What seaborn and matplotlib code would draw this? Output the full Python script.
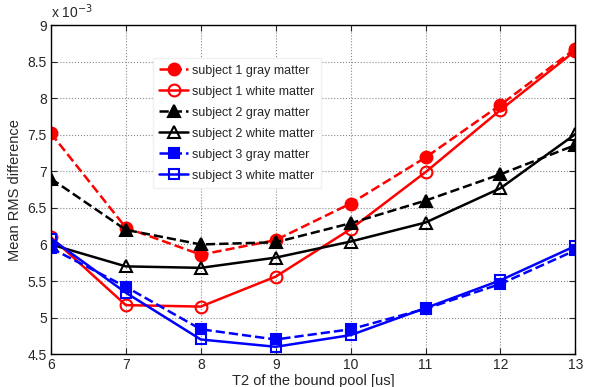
import numpy as np
import pandas as pd
import matplotlib
matplotlib.use("Agg")
import matplotlib.pyplot as plt
import seaborn as sns
from matplotlib.ticker import FuncFormatter

sns.set_style("ticks")
plt.rcParams['font.family'] = ['Liberation Sans', 'DejaVu Sans']

# T2 of the bound pool [us]
t2 = [6, 7, 8, 9, 10, 11, 12, 13]

# mean RMS difference, in units of 1e-3
s1_gray = [7.52, 6.23, 5.86, 6.06, 6.56, 7.19, 7.91, 8.68]
s1_white = [6.10, 5.17, 5.15, 5.56, 6.21, 6.99, 7.84, 8.65]
s2_gray = [6.90, 6.20, 6.00, 6.03, 6.29, 6.60, 6.96, 7.36]
s2_white = [6.00, 5.70, 5.68, 5.82, 6.04, 6.30, 6.77, 7.51]
s3_gray = [5.95, 5.42, 4.84, 4.70, 4.84, 5.12, 5.46, 5.92]
s3_white = [6.08, 5.34, 4.70, 4.60, 4.76, 5.13, 5.51, 5.98]

series = [
    ("subject 1 gray matter", s1_gray, "red", "o", "--", True),
    ("subject 1 white matter", s1_white, "red", "o", "-", False),
    ("subject 2 gray matter", s2_gray, "black", "^", "--", True),
    ("subject 2 white matter", s2_white, "black", "^", "-", False),
    ("subject 3 gray matter", s3_gray, "blue", "s", "--", True),
    ("subject 3 white matter", s3_white, "blue", "s", "-", False),
]

fig, ax = plt.subplots(figsize=(5.92, 3.87), dpi=100)

for name, vals, col, mk, ls, filled in series:
    df = pd.DataFrame({"t2": t2, "rms": vals})
    sns.lineplot(data=df, x="t2", y="rms", ax=ax, color=col, linestyle=ls,
                 linewidth=1.8, marker=mk, markersize=8.5 if mk != "s" else 7.5,
                 markerfacecolor=col if filled else "none",
                 markeredgecolor=col, markeredgewidth=1.5, label=name)

ax.set_xlim(6, 13)
ax.set_ylim(4.5, 9)
ax.set_xticks(range(6, 14))
ax.set_yticks(np.arange(4.5, 9.01, 0.5))
ax.yaxis.set_major_formatter(FuncFormatter(lambda v, p: f"{v:g}"))
ax.grid(True, linestyle=":", color="#888888", linewidth=0.8)
ax.tick_params(direction="in", labelsize=10, top=True, right=True, length=4, pad=3)
for sp in ax.spines.values():
    sp.set_linewidth(1.0)
    sp.set_color("black")

ax.set_xlabel("T2 of the bound pool [us]", fontsize=10.5, labelpad=1)
ax.set_ylabel("Mean RMS difference", fontsize=10.5, labelpad=4)
ax.text(0.0, 1.012, r"x 10$^{-3}$", transform=ax.transAxes, fontsize=10,
        ha="left", va="bottom")

leg = ax.legend(loc="upper left", bbox_to_anchor=(0.183, 0.918), fontsize=9,
                handlelength=2.3, frameon=True, fancybox=False,
                borderpad=0.5, labelspacing=0.72, handletextpad=0.3)
leg.get_frame().set_edgecolor("#f0f0f0")
leg.get_frame().set_alpha(1.0)

fig.subplots_adjust(left=0.086, right=0.972, top=0.935, bottom=0.085)
fig.savefig("out.png", dpi=100)
